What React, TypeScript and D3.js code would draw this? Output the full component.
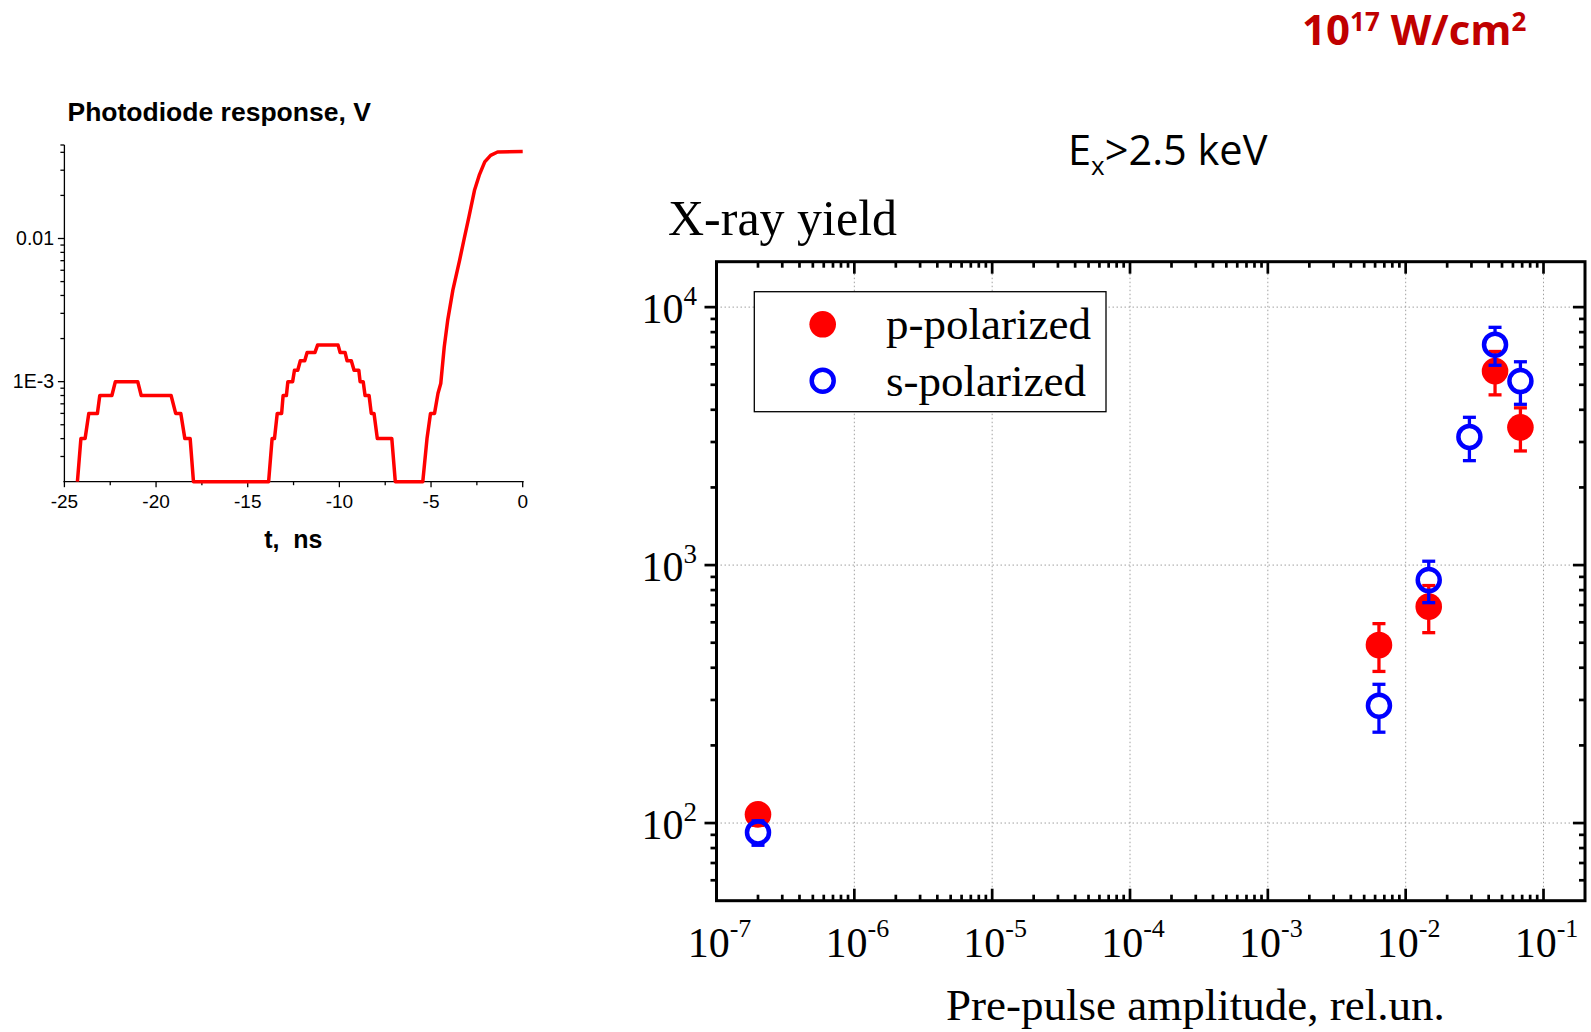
import React from "react";
import * as d3 from "d3";

// ---------- Left chart: photodiode response ----------
const pdTime = [-24.29, -24.1, -23.87, -23.67, -23.2, -23.07, -22.41, -22.22, -21.0, -20.81, -19.18, -18.93, -18.65, -18.43, -18.14, -17.96,
  -13.86, -13.67, -13.54, -13.39, -13.15, -13.07, -12.89, -12.81, -12.55, -12.45, -12.27, -12.13, -11.89, -11.76, -11.33, -11.19, -10.07, -9.96, -9.69, -9.58, -9.35, -9.2, -8.94, -8.87, -8.7, -8.6, -8.38, -8.26, -8.11, -7.93, -7.14, -6.95,
  -5.45, -5.22, -5.03, -4.81, -4.62, -4.47, -4.28, -4.09, -3.81, -3.44, -3.19, -2.93, -2.63, -2.37, -2.07, -1.75, -1.37, 0];
const pdVolt = [2e-4, 4e-4, 4e-4, 6e-4, 6e-4, 8e-4, 8e-4, 1e-3, 1e-3, 8e-4, 8e-4, 6e-4, 6e-4, 4e-4, 4e-4, 2e-4,
  2e-4, 4e-4, 4e-4, 6e-4, 6e-4, 8e-4, 8e-4, 1e-3, 1e-3, 1.2e-3, 1.2e-3, 1.4e-3, 1.4e-3, 1.6e-3, 1.6e-3, 1.8e-3, 1.8e-3, 1.6e-3, 1.6e-3, 1.4e-3, 1.4e-3, 1.2e-3, 1.2e-3, 1e-3, 1e-3, 8e-4, 8e-4, 6e-4, 6e-4, 4e-4, 4e-4, 2e-4,
  2e-4, 4e-4, 6e-4, 6e-4, 8.3e-4, 9.7e-4, 1.75e-3, 2.69e-3, 4.36e-3, 7.07e-3, 0.01, 0.0142, 0.0217, 0.0277, 0.0343, 0.0381, 0.0402, 0.0406];
const pdXTicks = [-25, -20, -15, -10, -5, 0];
const pdYTicks = [1e-3, 0.01];
const pdYTickLabels = ["1E-3", "0.01"];

// ---------- Right chart: X-ray yield ----------
const ampP = [2e-7, 6.4e-3, 1.47e-2, 4.45e-2, 6.8e-2];
const yieldP = [108, 490, 690, 5650, 3420];
const errP = [10, 103, 143, 1080, 650];
const ampS = [2e-7, 6.4e-3, 1.47e-2, 2.9e-2, 4.45e-2, 6.8e-2];
const yieldS = [92, 285, 875, 3140, 7150, 5170];
const errS = [10, 60, 160, 600, 1200, 970];
const xExponents = [-7, -6, -5, -4, -3, -2, -1];
const yExponents = [2, 3, 4];

const SANS = "'Liberation Sans', Arial, sans-serif";
const SERIF = "'Liberation Serif', 'Times New Roman', serif";
const OPEN = "'Open Sans', sans-serif";

export default function App() {
  // left chart scales
  const xL = d3.scaleLinear().domain([-25, 0]).range([64.4, 522.7]);
  const yL = d3.scaleLog().domain([2e-4, 0.045]).range([481.7, 145]);
  const line = d3
    .line<number>()
    .x((_, i) => xL(pdTime[i]))
    .y((v) => yL(v));
  const pdPath = line(pdVolt) || "";
  const pdMinorX = d3.range(-22.5, 0, 5);
  const pdMinorY: number[] = [];
  for (const d of [1e-4, 1e-3, 1e-2]) {
    for (let k = 2; k <= 9; k++) {
      const v = k * d;
      if (v > 2e-4 && v < 0.045) pdMinorY.push(v);
    }
  }

  // right chart scales
  const xR = d3.scaleLog().domain([1e-7, 0.2]).range([716.5, 1585]);
  const yR = d3.scaleLog().domain([50, 15000]).range([900.7, 261.7]);
  const [x0, x1] = xR.range();
  const [y0, y1] = yR.range(); // y0 bottom, y1 top
  const xMajor = xExponents.map((e) => Math.pow(10, e));
  const yMajor = yExponents.map((e) => Math.pow(10, e));
  const xMinor: number[] = [];
  for (let e = -7; e <= -1; e++) {
    for (let k = 2; k <= 9; k++) {
      const v = k * Math.pow(10, e);
      if (v < 0.2 - 1e-9) xMinor.push(v);
    }
  }
  const yMinor: number[] = [];
  for (let e = 1; e <= 4; e++) {
    for (let k = 2; k <= 9; k++) {
      const v = k * Math.pow(10, e);
      if (v > 50 && v < 15000) yMinor.push(v);
    }
  }
  const tickW = 2.7;
  const capHalf = 6.5;
  const rFill = 13.3;
  const rRing = 11;
  const ringW = 4.5;
  const red = "#ff0000";
  const blue = "#0000ff";

  return (
    <svg
      width={1591}
      height={1032}
      style={{ position: "absolute", left: 0, top: 0, background: "#fff" }}
    >
      <rect x={0} y={0} width={1591} height={1032} fill="#fff" />

      {/* ---------------- Left chart ---------------- */}
      <text x={67.5} y={120.7} fontFamily={SANS} fontWeight="bold" fontSize={26.5} fill="#000">
        Photodiode response, V
      </text>
      <line x1={xL(-25)} x2={xL(-25)} y1={145} y2={yL(2e-4)} stroke="#000" strokeWidth={1.3} />
      <line x1={xL(-25) - 1} x2={xL(0) + 1} y1={yL(2e-4)} y2={yL(2e-4)} stroke="#000" strokeWidth={1.3} />
      {pdXTicks.map((t) => (
        <g key={"lxt" + t}>
          <line x1={xL(t)} x2={xL(t)} y1={yL(2e-4)} y2={yL(2e-4) + 5.5} stroke="#000" strokeWidth={1.3} />
          <text x={xL(t)} y={508.3} textAnchor="middle" fontFamily={SANS} fontSize={19} fill="#000">
            {t}
          </text>
        </g>
      ))}
      {pdMinorX.map((t) => (
        <line key={"lxm" + t} x1={xL(t)} x2={xL(t)} y1={yL(2e-4)} y2={yL(2e-4) + 3.5} stroke="#000" strokeWidth={1.3} />
      ))}
      {pdYTicks.map((v, i) => (
        <g key={"lyt" + v}>
          <line x1={xL(-25) - 6.5} x2={xL(-25)} y1={yL(v)} y2={yL(v)} stroke="#000" strokeWidth={1.3} />
          <text x={54} y={yL(v) + 6.5} textAnchor="end" fontFamily={SANS} fontSize={19.5} fill="#000">
            {pdYTickLabels[i]}
          </text>
        </g>
      ))}
      {pdMinorY.map((v) => (
        <line key={"lym" + v} x1={xL(-25) - 4} x2={xL(-25)} y1={yL(v)} y2={yL(v)} stroke="#000" strokeWidth={1.3} />
      ))}
      <line x1={xL(-25) - 4} x2={xL(-25)} y1={145} y2={145} stroke="#000" strokeWidth={1.3} />
      <path d={pdPath} fill="none" stroke={red} strokeWidth={3.5} strokeLinejoin="round" strokeLinecap="butt" />
      <text x={293.3} y={547.7} textAnchor="middle" fontFamily={SANS} fontWeight="bold" fontSize={25} fill="#000" style={{ whiteSpace: "pre" }}>
        {"t,  ns"}
      </text>

      {/* ---------------- Top-right label ---------------- */}
      <text x={1302} y={45} fontFamily={OPEN} fontWeight="bold" fontSize={42} fill="#c00000">
        10
        <tspan dy={-14} fontSize={26}>17</tspan>
        <tspan dy={14}> W/cm</tspan>
        <tspan dy={-14} fontSize={26}>2</tspan>
      </text>

      {/* ---------------- Right chart ---------------- */}
      <text x={1068} y={165} fontFamily={OPEN} fontSize={41.5} fill="#000">
        E
        <tspan dy={10} fontSize={26}>x</tspan>
        <tspan dy={-10}>&gt;2.5 keV</tspan>
      </text>
      <text x={668} y={235} fontFamily={SERIF} fontSize={50} fill="#000">
        X-ray yield
      </text>

      {/* grid */}
      {xMajor.filter((v) => v > 1e-7).map((v) => (
        <line key={"gx" + v} x1={xR(v)} x2={xR(v)} y1={y1} y2={y0} stroke="#a0a0a0" strokeWidth={1} strokeDasharray="1.5,2.5" />
      ))}
      {yMajor.map((v) => (
        <line key={"gy" + v} x1={x0} x2={x1} y1={yR(v)} y2={yR(v)} stroke="#a0a0a0" strokeWidth={1} strokeDasharray="1.5,2.5" />
      ))}

      {/* ticks */}
      {xMajor.map((v) => (
        <g key={"xt" + v}>
          <line x1={xR(v)} x2={xR(v)} y1={y0} y2={y0 - 12} stroke="#000" strokeWidth={tickW} />
          <line x1={xR(v)} x2={xR(v)} y1={y1} y2={y1 + 12} stroke="#000" strokeWidth={tickW} />
        </g>
      ))}
      {xMinor.map((v) => (
        <g key={"xm" + v}>
          <line x1={xR(v)} x2={xR(v)} y1={y0} y2={y0 - 6} stroke="#000" strokeWidth={tickW} />
          <line x1={xR(v)} x2={xR(v)} y1={y1} y2={y1 + 6} stroke="#000" strokeWidth={tickW} />
        </g>
      ))}
      {yMajor.map((v) => (
        <g key={"yt" + v}>
          <line x1={x0 - 12} x2={x0} y1={yR(v)} y2={yR(v)} stroke="#000" strokeWidth={tickW} />
          <line x1={x1} x2={x1 - 12} y1={yR(v)} y2={yR(v)} stroke="#000" strokeWidth={tickW} />
        </g>
      ))}
      {yMinor.map((v) => (
        <g key={"ym" + v}>
          <line x1={x0 - 6} x2={x0} y1={yR(v)} y2={yR(v)} stroke="#000" strokeWidth={tickW} />
          <line x1={x1} x2={x1 - 6} y1={yR(v)} y2={yR(v)} stroke="#000" strokeWidth={tickW} />
        </g>
      ))}

      {/* frame */}
      <rect x={x0} y={y1} width={x1 - x0} height={y0 - y1} fill="none" stroke="#000" strokeWidth={3} />

      {/* tick labels */}
      {xExponents.map((e) => (
        <text key={"xl" + e} x={xR(Math.pow(10, e)) + 3} y={957.3} textAnchor="middle" fontFamily={SERIF} fontSize={42} fill="#000">
          10
          <tspan dy={-20} fontSize={26}>{String(e)}</tspan>
        </text>
      ))}
      {yExponents.map((e) => (
        <text key={"yl" + e} x={697} y={yR(Math.pow(10, e)) + 16.3} textAnchor="end" fontFamily={SERIF} fontSize={42} fill="#000">
          10
          <tspan dy={-18} fontSize={27}>{String(e)}</tspan>
        </text>
      ))}
      <text x={1195.4} y={1020} textAnchor="middle" fontFamily={SERIF} fontSize={45} fill="#000">
        Pre-pulse amplitude, rel.un.
      </text>

      {/* legend */}
      <rect x={754.3} y={291.7} width={351.7} height={120} fill="#fff" stroke="#000" strokeWidth={1.3} />
      <circle cx={822.7} cy={324.3} r={rFill} fill={red} />
      <circle cx={822.7} cy={380.7} r={rRing} fill="none" stroke={blue} strokeWidth={ringW} />
      <text x={886} y={339.3} fontFamily={SERIF} fontSize={45} fill="#000">p-polarized</text>
      <text x={886} y={396} fontFamily={SERIF} fontSize={45} fill="#000">s-polarized</text>

      {/* p-polarized points */}
      {ampP.map((a, i) => {
        const cx = xR(a);
        const cy = yR(yieldP[i]);
        const yt = yR(yieldP[i] + errP[i]);
        const yb = yR(yieldP[i] - errP[i]);
        return (
          <g key={"p" + i}>
            <line x1={cx} x2={cx} y1={yt} y2={yb} stroke={red} strokeWidth={3.3} />
            <line x1={cx - capHalf} x2={cx + capHalf} y1={yt} y2={yt} stroke={red} strokeWidth={3.3} />
            <line x1={cx - capHalf} x2={cx + capHalf} y1={yb} y2={yb} stroke={red} strokeWidth={3.3} />
            <circle cx={cx} cy={cy} r={rFill} fill={red} />
          </g>
        );
      })}
      {/* s-polarized points */}
      {ampS.map((a, i) => {
        const cx = xR(a);
        const cy = yR(yieldS[i]);
        const yt = yR(yieldS[i] + errS[i]);
        const yb = yR(yieldS[i] - errS[i]);
        const edge = rRing + ringW / 2;
        return (
          <g key={"s" + i}>
            {cy - edge > yt && <line x1={cx} x2={cx} y1={yt} y2={cy - edge + 1} stroke={blue} strokeWidth={3.3} />}
            {yb > cy + edge && <line x1={cx} x2={cx} y1={cy + edge - 1} y2={yb} stroke={blue} strokeWidth={3.3} />}
            <line x1={cx - capHalf} x2={cx + capHalf} y1={yt} y2={yt} stroke={blue} strokeWidth={3.3} />
            <line x1={cx - capHalf} x2={cx + capHalf} y1={yb} y2={yb} stroke={blue} strokeWidth={3.3} />
            <circle cx={cx} cy={cy} r={rRing} fill="none" stroke={blue} strokeWidth={ringW} />
          </g>
        );
      })}
    </svg>
  );
}
